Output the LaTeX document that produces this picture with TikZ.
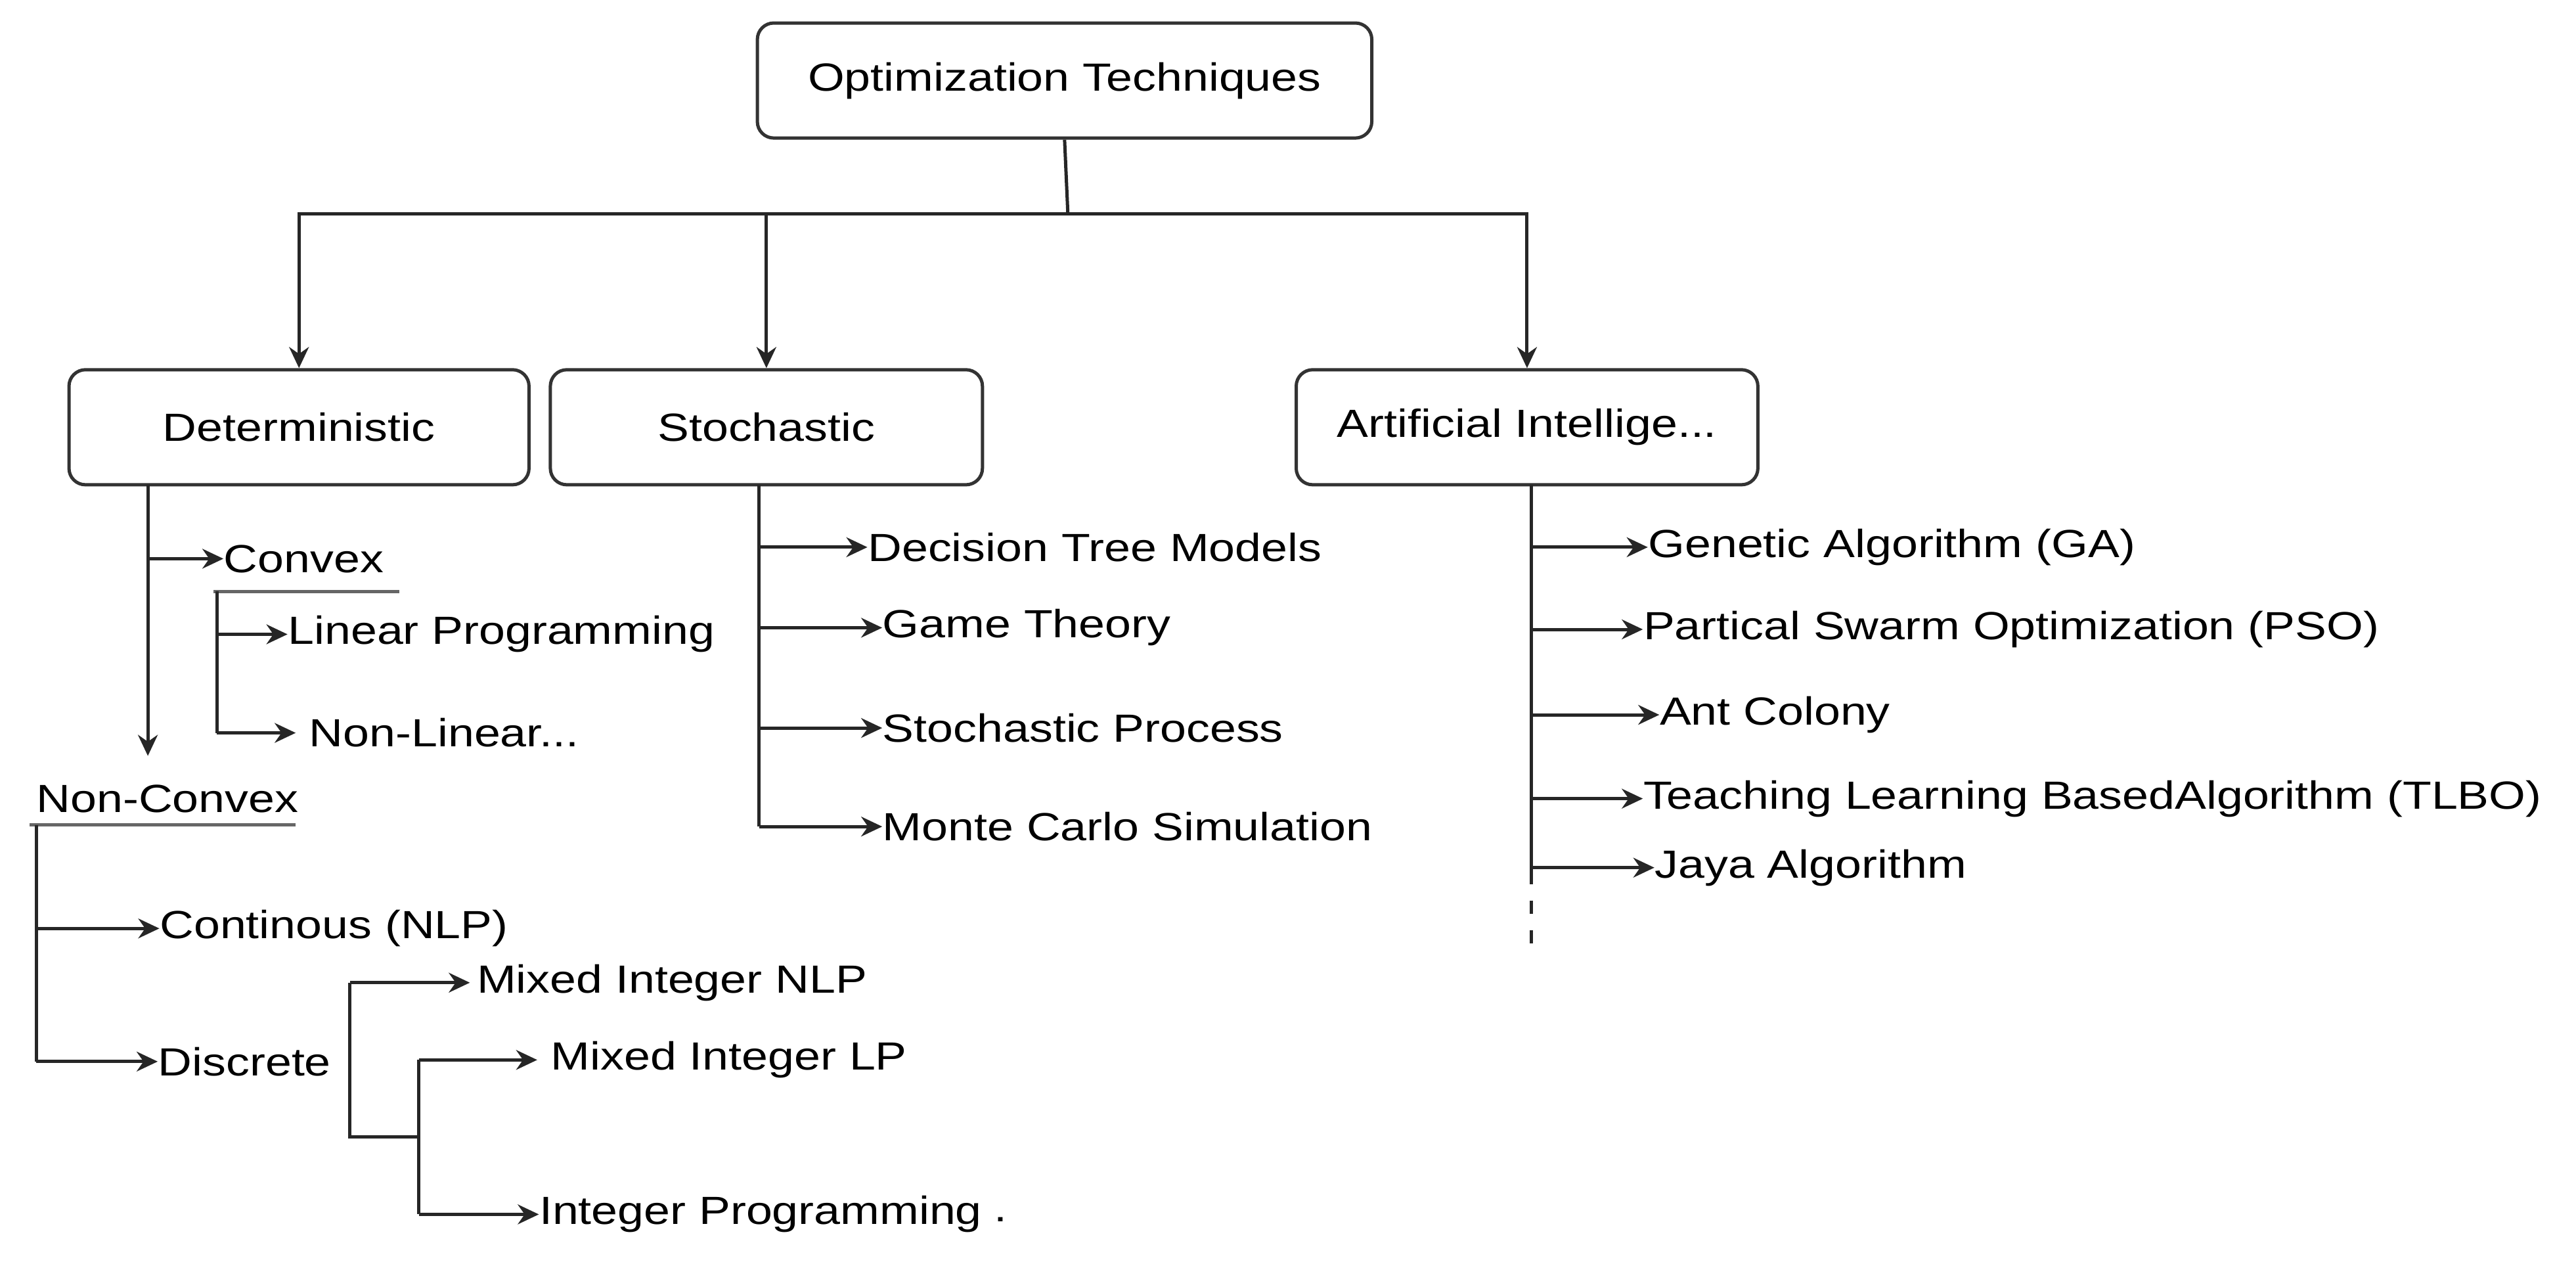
\documentclass[tikz,border=0pt]{standalone}
\usepackage{fontspec}
\setmainfont{Liberation Sans}[FakeStretch=1.2]
\usetikzlibrary{arrows.meta}
\begin{document}
\begin{tikzpicture}[x=0.25mm,y=-0.25mm,
  font=\fontsize{17}{20}\selectfont,
  box/.style={draw=black!80,line width=0.5mm,rounded corners=2.5mm,align=center},
  leaf/.style={anchor=west,inner sep=0pt},
  ln/.style={line width=0.5mm,black!85},
  arr/.style={ln,-{Stealth[length=3.2mm,width=3mm]}}]
\useasboundingbox (0,0) rectangle (1568,769);
\node[box,minimum width=93.5mm,minimum height=17.5mm] (top) at (648,49) {Optimization Techniques};
\node[box,minimum width=70mm,minimum height=17.5mm] (det) at (182,260) {Deterministic};
\node[box,minimum width=65.75mm,minimum height=17.5mm] (sto) at (466.5,260) {Stochastic};
\node[box,minimum width=70.25mm,minimum height=17.5mm] (ai) at (929.5,260) {Artificial Intellige...};
\coordinate (j) at (650,130);
\draw[ln] (top.south) -- (j);
\draw[arr] (j) -| (det.north);
\draw[arr] (j) -| (sto.north);
\draw[arr] (j) -| (ai.north);
% Deterministic
\coordinate (dt) at (90,295);
\coordinate (dnc) at (90,460);
\node[leaf] (conv) at (136,340) {Convex};
\draw[arr] (dt) -- (dnc);
\draw[arr] (dt |- conv) -- (conv.west);
\coordinate (cu1) at (130,360); \coordinate (cu2) at (243,360);
\draw[ln,black!60] (cu1) -- (cu2);
\node[leaf] (lp) at (175,386) {Linear Programming};
\node[leaf] (nl) at (188,446) {Non-Linear...};
\coordinate (ct) at (132,360); \coordinate (cb) at (132,446);
\draw[ln] (ct) -- (cb);
\draw[arr] (ct |- lp) -- (lp.west);
\draw[arr] (cb) -- ([xshift=-2mm]nl.west);
\node[leaf] (nc) at (22,486) {Non-Convex};
\coordinate (nu1) at (18,502); \coordinate (nu2) at (180,502);
\draw[ln,black!60] (nu1) -- (nu2);
\node[leaf] (cont) at (97,565) {Continous (NLP)};
\node[leaf] (disc) at (96,646) {Discrete};
\coordinate (nt) at (22,502); \coordinate (nb) at (22,646);
\draw[ln] (nt) -- (nb);
\draw[arr] (nt |- cont) -- (cont.west);
\draw[arr] (nb) -- (disc.west);
\node[leaf] (minlp) at (290,598) {Mixed Integer NLP};
\node[leaf] (milp) at (335,645) {Mixed Integer LP};
\node[leaf] (ip) at (328,739) {Integer Programming};
\node[inner sep=0pt] (dot) at (609,742) {.};
\coordinate (b1) at (213,692); \coordinate (b2) at (255,692);
\coordinate (b1t) at (213,598);
\draw[ln] (b2) -- (b1) -- (b1t);
\draw[arr] (b1t) -- ([xshift=-1mm]minlp.west);
\coordinate (b2t) at (255,645); \coordinate (b2b) at (255,739);
\draw[ln] (b2t) -- (b2b);
\draw[arr] (b2t) -- ([xshift=-2mm]milp.west);
\draw[arr] (b2b) -- (ip.west);
% Stochastic
\node[leaf] (s1) at (528,333) {Decision Tree Models};
\node[leaf] (s2) at (537,382) {Game Theory};
\node[leaf] (s3) at (537,443) {Stochastic Process};
\node[leaf] (s4) at (537,503) {Monte Carlo Simulation};
\coordinate (st) at (462,295); \coordinate (sb) at (462,503);
\draw[ln] (st) -- (sb);
\draw[arr] (st |- s1) -- (s1.west);
\draw[arr] (st |- s2) -- (s2.west);
\draw[arr] (st |- s3) -- (s3.west);
\draw[arr] (sb) -- (s4.west);
% AI
\node[leaf] (a1) at (1003,333) {Genetic Algorithm (GA)};
\node[leaf] (a2) at (1000,383) {Partical Swarm Optimization (PSO)};
\node[leaf] (a3) at (1010,435) {Ant Colony};
\node[leaf] (a4) at (1000,486) {Teaching Learning BasedAlgorithm (TLBO)};
\node[leaf] (a5) at (1007,528) {Jaya Algorithm};
\coordinate (at) at (932,295); \coordinate (ab) at (932,530); \coordinate (ae) at (932,578);
\draw[ln] (at) -- (ab);
\draw[ln,dash pattern=on 2mm off 2.5mm] (ab) -- (ae);
\draw[arr] (at |- a1) -- (a1.west);
\draw[arr] (at |- a2) -- (a2.west);
\draw[arr] (at |- a3) -- (a3.west);
\draw[arr] (at |- a4) -- (a4.west);
\draw[arr] (at |- a5) -- (a5.west);
\end{tikzpicture}
\end{document}
